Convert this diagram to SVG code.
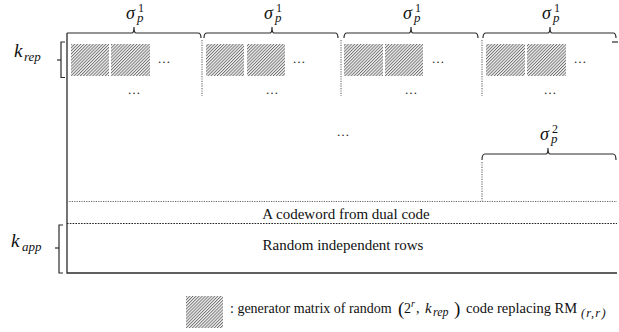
<svg xmlns="http://www.w3.org/2000/svg" width="619" height="332" viewBox="0 0 619 332">
<defs>
<pattern id="hatch" patternUnits="userSpaceOnUse" width="2.2" height="2.2" patternTransform="rotate(45)">
<rect width="2.2" height="2.2" fill="#f2f2f2"/>
<rect width="0.9" height="2.2" fill="#707070"/>
</pattern>
</defs>
<style>
.ln{fill:none;stroke:#2b2b2b;stroke-width:1.3}
.br{fill:none;stroke:#2b2b2b;stroke-width:1.2}
.dt{fill:none;stroke:#666;stroke-width:1.1;stroke-dasharray:1.2 1.2}
.dk{fill:none;stroke:#222;stroke-width:1.1;stroke-dasharray:1.6 1.2}
.hb{fill:url(#hatch)}
text{font-family:'Liberation Serif','DejaVu Serif',serif;fill:#111}
.m{font-style:italic}
.dots{font-size:13px;fill:#222;text-anchor:middle}
</style>

<g id="frame">
<path class="ln" d="M67,33 V273 H617"/>
<path class="dt" d="M67,201.5 H617"/>
<path class="dk" d="M67,223.5 H617"/>
</g>

<g id="connectors">
<path class="br" d="M67,33 H132 Q134,33 134,27 Q134,33 136,33 H198 Q201,33 201,38"/>
<path class="br" d="M204,38 Q204,33 207,33 H270 Q272,33 272,27 Q272,33 274,33 H335 Q338,33 338,38"/>
<path class="br" d="M344,38 Q344,33 347,33 H409 Q411,33 411,27 Q411,33 413,33 H475 Q478,33 478,38"/>
<path class="br" d="M483,38 Q483,33 486,33 H548 Q550,33 550,27 Q550,33 552,33 H613 Q616,33 616,38"/>
<path class="br" d="M612,42 H618"/>
<path class="br" d="M482,160 Q482,154 485,154 H546 Q548,154 548,148 Q548,154 550,154 H613 Q616,154 616,160"/>
<path class="dt" d="M202,40 V96"/>
<path class="dt" d="M341,40 V96"/>
<path class="dt" d="M482,40 V96"/>
<path class="dt" d="M482,162 V201"/>
<path class="br" d="M65,42 H61 V77.5 H65"/>
<path class="br" d="M57,60 H61"/>
<path class="br" d="M63,225 H59 V273 H63"/>
<path class="br" d="M55,248 H59"/>
</g>

<g id="labels-top">
<g id="sigma1-a"><text class="m" font-size="18" x="126" y="19">σ<tspan x="137" y="22" font-size="13">p</tspan><tspan x="138" y="12" font-size="12" font-style="normal">1</tspan></text></g>
<g id="sigma1-b"><text class="m" font-size="18" x="264" y="19">σ<tspan x="275" y="22" font-size="13">p</tspan><tspan x="276" y="12" font-size="12" font-style="normal">1</tspan></text></g>
<g id="sigma1-c"><text class="m" font-size="18" x="403" y="19">σ<tspan x="414" y="22" font-size="13">p</tspan><tspan x="415" y="12" font-size="12" font-style="normal">1</tspan></text></g>
<g id="sigma1-d"><text class="m" font-size="18" x="542" y="19">σ<tspan x="553" y="22" font-size="13">p</tspan><tspan x="554" y="12" font-size="12" font-style="normal">1</tspan></text></g>
<g id="sigma2"><text class="m" font-size="18" x="540" y="140">σ<tspan x="551" y="143" font-size="13">p</tspan><tspan x="552" y="133" font-size="12" font-style="normal">2</tspan></text></g>
</g>

<g id="krep"><text class="m" x="14" y="57" font-size="19">k<tspan x="24" y="61" font-size="13">rep</tspan></text></g>
<g id="kapp"><text class="m" x="11" y="247" font-size="19">k<tspan x="22" y="251" font-size="13">app</tspan></text></g>

<g id="blocks">
<rect class="hb" x="71" y="44" width="38" height="32"/>
<rect class="hb" x="111" y="44" width="39" height="32"/>
<rect class="hb" x="206" y="44" width="38" height="32"/>
<rect class="hb" x="247" y="44" width="38" height="32"/>
<rect class="hb" x="344" y="44" width="39" height="32"/>
<rect class="hb" x="385" y="44" width="38" height="32"/>
<rect class="hb" x="486" y="44" width="39" height="32"/>
<rect class="hb" x="527" y="44" width="39" height="32"/>
</g>

<g id="ellipses">
<text class="dots" x="164" y="63">…</text>
<text class="dots" x="299" y="63">…</text>
<text class="dots" x="438" y="63">…</text>
<text class="dots" x="580" y="63">…</text>
<text class="dots" x="134" y="94">…</text>
<text class="dots" x="272" y="94">…</text>
<text class="dots" x="411" y="94">…</text>
<text class="dots" x="550" y="94">…</text>
<text class="dots" x="343" y="136" font-size="16">…</text>
</g>

<g id="codeword"><text x="346" y="219" font-size="15" text-anchor="middle">A codeword from dual code</text></g>
<g id="random"><text x="343" y="250" font-size="15" text-anchor="middle">Random independent rows</text></g>

<g id="legend">
<rect class="hb" x="186" y="296" width="37" height="32"/>
<text x="230" y="313" font-size="14">: generator matrix of random<tspan x="398" y="315" font-size="19">(</tspan><tspan x="404" y="313">2</tspan><tspan x="411" y="307" font-size="10" font-style="italic">r</tspan><tspan x="416" y="313">,</tspan><tspan x="425" y="313" font-size="15" font-style="italic">k</tspan><tspan x="433" y="316" font-size="12" font-style="italic">rep</tspan><tspan x="454" y="315" font-size="19">)</tspan><tspan x="466" y="313" font-size="14.5">code replacing RM</tspan><tspan x="581" y="317" font-size="12.5" font-style="italic" letter-spacing="1.2">(r,r)</tspan></text>
</g>
</svg>
